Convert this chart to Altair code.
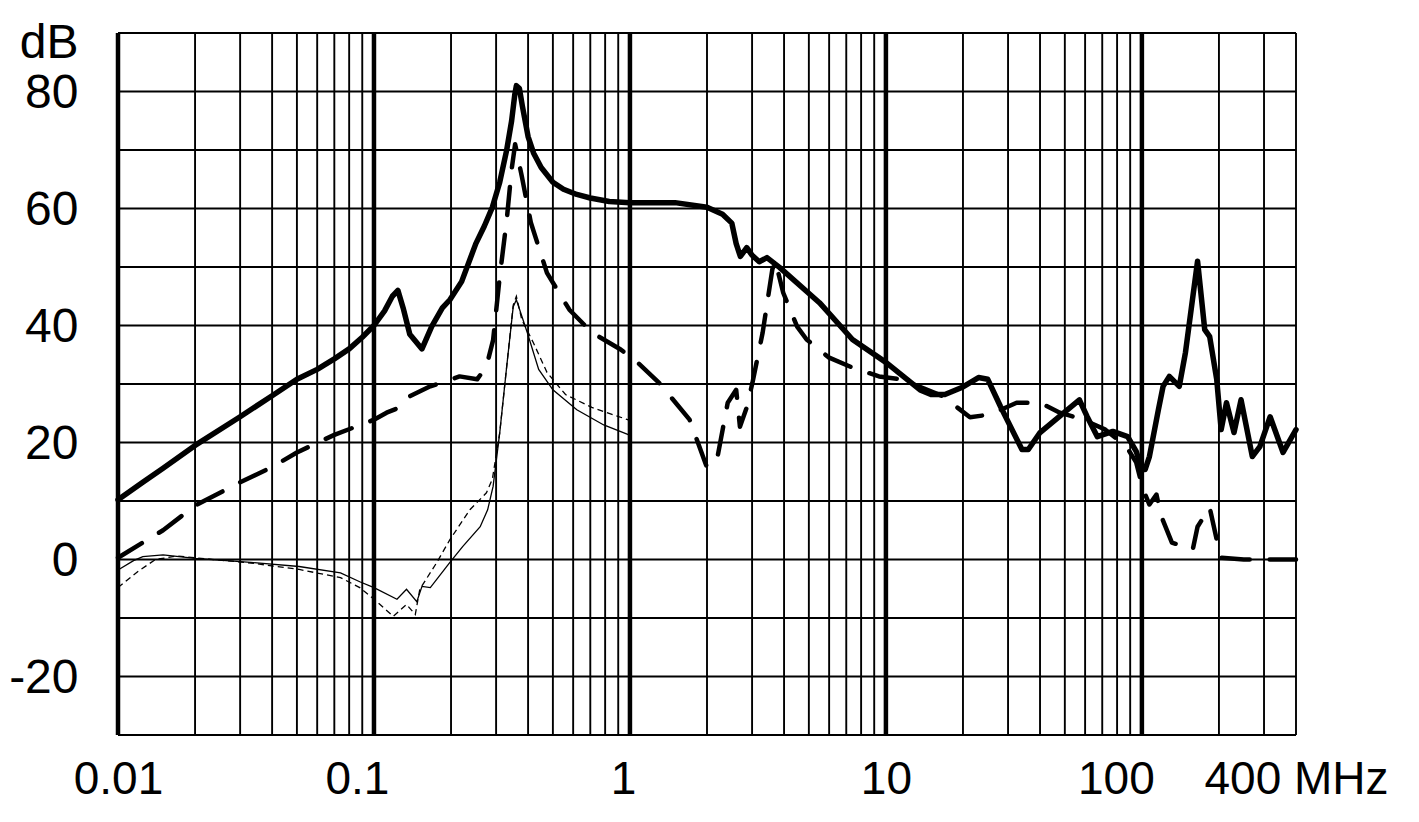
import altair as alt
import pandas as pd

# ---- data ----
s1_f = [0.01, 0.0125, 0.015, 0.02, 0.03, 0.04, 0.05, 0.06, 0.07, 0.08, 0.09, 0.1, 0.11, 0.118, 0.124,
        0.13, 0.138, 0.154, 0.168, 0.185, 0.198, 0.22, 0.25, 0.27, 0.29, 0.31, 0.33, 0.345, 0.355, 0.36,
        0.37, 0.38, 0.4, 0.42, 0.45, 0.5, 0.55, 0.62, 0.7, 0.83, 1.0, 1.5, 2.0, 2.3, 2.5, 2.6, 2.7, 2.86,
        3.0, 3.2, 3.43, 3.85, 5.5, 7.4, 10, 13.6, 15, 17, 20, 23, 25, 28, 34, 36, 40, 47.8, 57, 61, 67,
        77, 88, 95, 100, 103, 107, 116, 121, 128, 140, 148, 165, 176, 184, 196, 204, 214, 229, 244, 270,
        289, 317, 356, 400]
s1_db = [10.2, 13.2, 15.6, 19.5, 24.4, 28.0, 30.8, 32.5, 34.3, 36.0, 38.0, 40.0, 42.5, 45.0, 46.0,
         43.0, 38.5, 36.0, 39.8, 43.0, 44.4, 47.5, 54.0, 57.0, 60.2, 64.5, 70.0, 75.0, 79.5, 81.0,
         80.5, 77.5, 72.3, 69.5, 67.0, 64.5, 63.3, 62.4, 61.8, 61.2, 61.0, 61.0, 60.2, 59.0, 57.5, 54.0, 51.8, 53.3,
         52.0, 50.9, 51.6, 49.9, 43.9, 37.6, 33.7, 29.0, 28.2, 28.2, 29.5, 31.1, 30.8, 26.2, 18.8, 18.8, 21.7, 24.5, 27.3, 24.5, 21.0,
         21.9, 21.0, 18.5, 15.4, 15.4, 17.6, 25.6, 29.6, 31.3, 29.6, 35.4, 51.0, 39.3, 38.1, 30.8, 22.2, 26.8, 21.7, 27.3, 17.6,
         19.3, 24.4, 18.3, 22.2]

s2_f = [0.01, 0.0125, 0.015, 0.02, 0.03, 0.04, 0.05, 0.07, 0.1, 0.112, 0.126, 0.138, 0.166, 0.2, 0.216,
        0.253, 0.275, 0.292, 0.31, 0.33, 0.345, 0.356, 0.378, 0.41, 0.474, 0.58, 0.71, 0.92, 1.07, 1.3,
        1.71, 2.0, 2.2, 2.41, 2.6, 2.69, 2.86, 3.01, 3.3, 3.6, 3.7, 3.97, 4.5, 4.9, 6.0, 7.4, 9.4, 11.5,
        16.7, 21.3, 25.6, 32.4, 40, 47.8, 59, 72, 87, 95, 101, 107, 114, 119, 131, 158, 165, 184, 196,
        205, 250, 400]
s2_db = [0.3, 2.9, 5.0, 9.2, 13.2, 15.8, 18.3, 21.3, 23.9, 25.1, 26.0, 27.9, 29.6, 30.8, 31.3,
         30.8, 33.0, 37.5, 48.4, 58.0, 66.7, 71.0, 65.5, 57.6, 49.0, 42.7, 38.8, 35.9, 33.7, 30.2,
         23.9, 15.7, 17.6, 26.8, 29.0, 22.7, 26.0, 30.2, 38.8, 49.6, 51.0, 45.6, 39.8, 37.6, 34.5, 32.8, 31.3, 30.8,
         27.9, 24.3, 24.8, 26.8, 26.8, 25.1, 23.9, 22.2, 19.3, 16.6, 12.0, 9.4, 11.1, 7.4, 2.9, 1.7, 5.6, 8.9, 3.4,
         0.3, 0.0, 0.0]

s3_f = [0.01, 0.0115, 0.0125, 0.015, 0.02, 0.033, 0.051, 0.074, 0.088, 0.1, 0.123, 0.134, 0.147, 0.154,
        0.166, 0.198, 0.222, 0.26, 0.278, 0.292, 0.31, 0.33, 0.35, 0.36, 0.397, 0.44, 0.5, 0.62, 0.79, 0.98, 1.0]
s3_db = [-1.8, -0.2, 0.5, 0.8, 0.2, -0.5, -1.2, -2.3, -3.8, -4.8, -6.8, -5.1, -7.2, -4.6,
         -4.8, -0.5, 2.2, 5.6, 8.5, 12.5, 21.7, 33.0, 43.2, 44.4, 38.8, 32.5, 29.0, 25.6, 23.0, 21.4, 21.2]

s4_f = [0.01, 0.012, 0.014, 0.017, 0.02, 0.033, 0.051, 0.074, 0.088, 0.1, 0.119, 0.134, 0.145, 0.151,
        0.176, 0.198, 0.237, 0.275, 0.29, 0.31, 0.33, 0.35, 0.36, 0.378, 0.42, 0.474, 0.56, 0.71, 0.98, 1.0]
s4_db = [-4.8, -2.0, 0.0, 0.6, 0.3, -0.6, -1.7, -3.1, -4.8, -6.8, -9.7, -7.7, -9.4, -5.1,
         -0.5, 3.4, 8.5, 11.4, 13.7, 21.7, 33.0, 43.5, 45.0, 41.0, 37.0, 32.0, 28.2, 26.0, 23.9, 23.7]

decades = [0.01, 0.1, 1, 10, 100]
minor_f = [m * d for d in [0.01, 0.1, 1, 10] for m in range(2, 10)] + [200, 300, 400]
h_grid = [-30, -20, -10, 0, 10, 20, 30, 40, 50, 60, 70, 80, 90]
x_labels = [0.01, 0.1, 1, 10, 100, 400]
y_labels = [-20, 0, 20, 40, 60, 80, 90]

FONT = "Liberation Sans"

xs = alt.Scale(type="log", domain=[0.01, 400], nice=False)
ys = alt.Scale(domain=[-30, 90], nice=False)

x_axis = alt.Axis(
    values=x_labels, format=".2~f",
    labelExpr="datum.value == 400 ? '400 MHz' : datum.label",
    grid=False, domain=False, ticks=False, tickSize=0, title=None,
    labelFont=FONT, labelFontSize=46, labelColor="black",
    labelPadding=58, labelBaseline="alphabetic", labelOverlap=False,
    labelFlush=False, labelBound=False, labelLimit=0,
    labelOffset={"condition": [
        {"test": "datum.value == 100", "value": -26},
        {"test": "datum.value == 0.1", "value": -17},
        {"test": "datum.value == 1", "value": -7}], "value": 0},
)
y_axis = alt.Axis(
    values=y_labels,
    labelExpr="datum.value == 90 ? 'dB' : '' + datum.value",
    grid=False, domain=False, ticks=False, tickSize=0, title=None,
    labelFont=FONT, labelFontSize=48, labelColor="black",
    labelPadding=40, labelBaseline="middle", labelOverlap=False,
    labelFlush=False, labelBound=False, labelLimit=0,
    labelOffset={"condition": {"test": "datum.value == 90", "value": 10}, "value": 2},
)

vdf = pd.DataFrame({"f": minor_f + decades,
                    "kind": ["minor"] * len(minor_f) + ["major"] * len(decades)})
hdf = pd.DataFrame({"db": h_grid})

vgrid = alt.Chart(vdf).mark_rule(color="black").encode(
    x=alt.X("f:Q", scale=xs, axis=x_axis),
    strokeWidth=alt.StrokeWidth("kind:N", scale=alt.Scale(domain=["minor", "major"], range=[1.9, 4.5]), legend=None),
)
hgrid = alt.Chart(hdf).mark_rule(color="black", strokeWidth=1.9).encode(
    y=alt.Y("db:Q", scale=ys, axis=y_axis),
)

def line(fs, dbs, **kw):
    df = pd.DataFrame({"f": fs, "db": dbs})
    return alt.Chart(df).mark_line(color="black", **kw).encode(
        x=alt.X("f:Q", scale=xs),
        y=alt.Y("db:Q", scale=ys),
    )

l3 = line(s3_f, s3_db, strokeWidth=1.3)
l4 = line(s4_f, s4_db, strokeWidth=1.3, strokeDash=[6, 4])
l2 = line(s2_f, s2_db, strokeWidth=4.5, strokeDash=[28, 20], strokeCap="round", strokeJoin="round")
l1 = line(s1_f, s1_db, strokeWidth=5.5, strokeCap="round", strokeJoin="round")

chart = alt.layer(vgrid, hgrid, l3, l4, l2, l1).properties(
    width=1178, height=702,
    autosize=alt.AutoSizeParams(type="none"),
    padding={"left": 110, "top": 25, "right": 115, "bottom": 79},
    background="white",
).configure_view(stroke=None)

chart.save("out.html", embed_options={"renderer": "svg", "actions": False})
